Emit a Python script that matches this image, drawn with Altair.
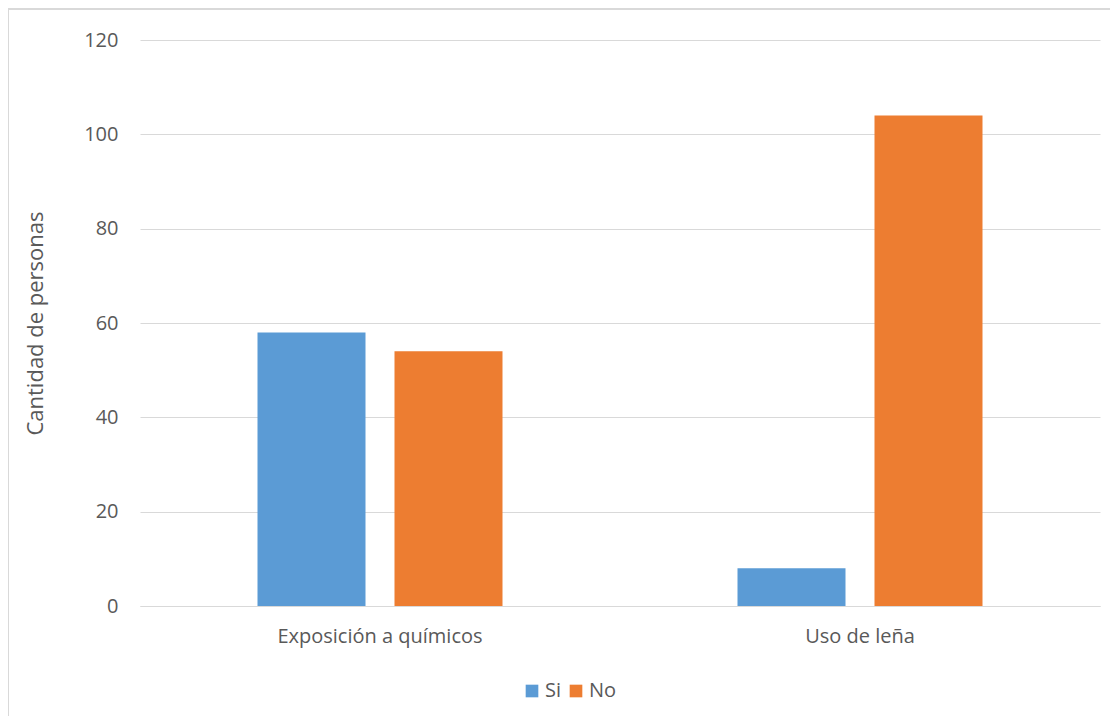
import altair as alt
import pandas as pd

categories = ["Exposición a químicos", "Uso de leña"]
series = ["Si", "No"]
si_values = [58, 8]
no_values = [54, 104]
colors = ["#5B9BD5", "#ED7D31"]

rows = []
for i, c in enumerate(categories):
    rows.append({"categoria": c, "serie": "Si", "valor": si_values[i]})
    rows.append({"categoria": c, "serie": "No", "valor": no_values[i]})
df = pd.DataFrame(rows)

FONT = "Open Sans"
TXT = "#595959"

bars = alt.Chart(df).mark_bar().encode(
    x=alt.X("categoria:N", sort=categories, title=None,
            scale=alt.Scale(paddingInner=0, paddingOuter=0),
            axis=alt.Axis(labelAngle=0, labelFontSize=20, labelColor=TXT, labelFont=FONT,
                          labelLimit=0, ticks=False, grid=False, domain=True,
                          domainColor="#d9d9d9", labelPadding=20)),
    xOffset=alt.XOffset("serie:N", sort=series,
                        scale=alt.Scale(paddingInner=0.2117, paddingOuter=0.8577)),
    y=alt.Y("valor:Q", title="Cantidad de personas",
            scale=alt.Scale(domain=[0, 120]),
            axis=alt.Axis(values=[0, 20, 40, 60, 80, 100, 120], labelFontSize=20,
                          labelColor=TXT, labelFont=FONT, ticks=False, domain=False,
                          gridColor="#d9d9d9", labelPadding=22,
                          titleFontSize=22, titleFont=FONT, titleColor=TXT,
                          titleFontWeight="normal", titlePadding=36)),
    color=alt.Color("serie:N", sort=series,
                    scale=alt.Scale(domain=series, range=colors),
                    legend=alt.Legend(title=None, orient="none", legendX=382, legendY=641,
                                      direction="horizontal", symbolType="square",
                                      symbolSize=160, labelFontSize=20, labelColor=TXT,
                                      labelFont=FONT, padding=0, columnPadding=4,
                                      labelOffset=3, symbolStrokeWidth=0)),
)

marker = pd.DataFrame({"a": [0]})
top_line = alt.Chart(marker).mark_rule(color="#d9d9d9", strokeWidth=2).encode(
    x=alt.value(-132), x2=alt.value(1000), y=alt.value(-31)
)
left_line = alt.Chart(marker).mark_rule(color="#d9d9d9", strokeWidth=2).encode(
    x=alt.value(-132), y=alt.value(-31), y2=alt.value(700)
)

chart = alt.layer(top_line, left_line, bars).properties(
    width=960, height=566,
    autosize=alt.AutoSizeParams(type="none"),
    padding={"left": 132, "top": 32, "right": 10, "bottom": 110},
).configure(font=FONT).configure_view(strokeWidth=0, stroke="transparent")

chart.save("out.html", embed_options={"renderer": "svg", "actions": False})
